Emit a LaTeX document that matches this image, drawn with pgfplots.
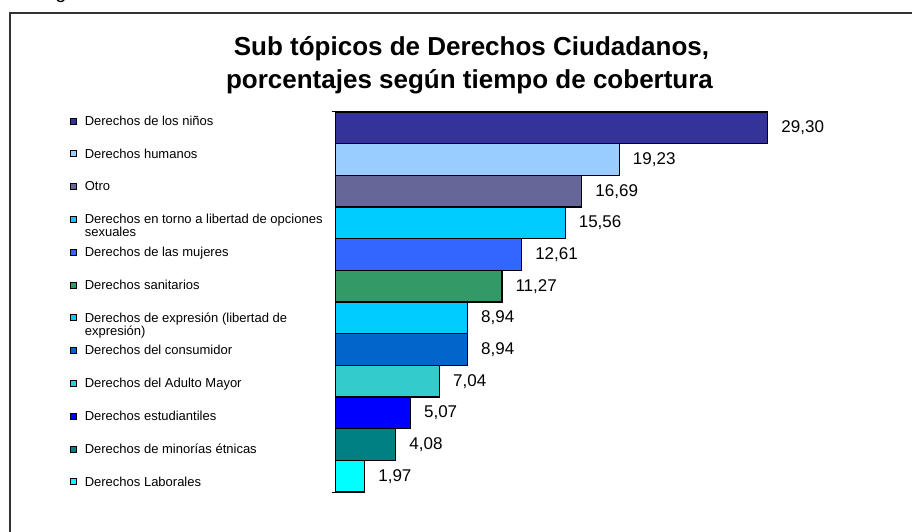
\documentclass[border=0pt]{standalone}
\usepackage{pgfplots}
\pgfplotsset{compat=1.18}
\usepackage{fontspec}
\setmainfont{Liberation Sans}
\definecolor{c1}{HTML}{333399}
\definecolor{c2}{HTML}{99CCFF}
\definecolor{c3}{HTML}{666699}
\definecolor{c4}{HTML}{00CCFF}
\definecolor{c5}{HTML}{3366FF}
\definecolor{c6}{HTML}{339966}
\definecolor{c7}{HTML}{00CCFF}
\definecolor{c8}{HTML}{0066CC}
\definecolor{c9}{HTML}{33CCCC}
\definecolor{c10}{HTML}{0000FF}
\definecolor{c11}{HTML}{008080}
\definecolor{c12}{HTML}{00FFFF}
\newcommand{\lt}[1]{\smash{\parbox[t]{260bp}{\raggedright #1}}}
\pgfplotsset{
  mybar/.style={xbar, bar width=31.67bp, bar shift=0pt, draw=black, line width=1.2bp, fill=#1},
}
\begin{document}
\begin{tikzpicture}
\useasboundingbox (0,0) rectangle (912bp,532bp);
\draw[line width=1.2bp, black!80] (10bp,-10bp) -- (10bp,519bp) -- (925bp,519bp);
\node[anchor=base, font=\fontsize{20bp}{24bp}\selectfont] at (61bp,533bp) {g};
\node[anchor=base, font=\bfseries\fontsize{26bp}{30bp}\selectfont] at (471.5bp,476bp) {Sub tópicos de Derechos Ciudadanos,};
\node[anchor=base, font=\bfseries\fontsize{26bp}{30bp}\selectfont] at (469.5bp,443bp) {porcentajes según tiempo de cobertura};
\begin{axis}[
  at={(335.7bp,40bp)}, anchor=south west,
  scale only axis, width=500bp, height=380bp,
  xmin=0, xmax=33.9, ymin=-0.5, ymax=11.5,
  axis x line=none, axis y line*=left,
  ytick={-0.5,11.5}, yticklabels={},
  tick align=outside, major tick length=4bp,
  y axis line style={black, line width=1bp},
  ytick style={black, line width=1bp},
  clip=false,
  point meta=x,
  nodes near coords,
  nodes near coords style={anchor=west, inner sep=0pt, xshift=13bp, font=\fontsize{17bp}{19bp}\selectfont, text=black},
  /pgf/number format/.cd, use comma, fixed, fixed zerofill, precision=2, assume math mode=true, /pgfplots/.cd,
  legend image code/.code={\draw[#1, line width=0.8bp, draw=black] (0bp,-3bp) rectangle (6bp,3bp);},
  legend cell align=left,
  legend style={draw=none, fill=none, at={(axis description cs:-0.5314,1.0195)}, anchor=north west,
    inner sep=0pt, outer sep=0pt, row sep=0pt,
    nodes={inner sep=0pt, outer sep=0pt, text height=20.8bp, text depth=12bp},
    font=\fontsize{13bp}{13bp}\selectfont,
    /tikz/every odd column/.style={column sep=8bp}},
]
\addplot[mybar=c1] coordinates {(29.30,11)};
\addlegendentry{\lt{Derechos de los niños}}
\addplot[mybar=c2] coordinates {(19.23,10)};
\addlegendentry{\lt{Derechos humanos}}
\addplot[mybar=c3] coordinates {(16.69,9)};
\addlegendentry{\lt{Otro}}
\addplot[mybar=c4] coordinates {(15.56,8)};
\addlegendentry{\lt{Derechos en torno a libertad de opciones\\sexuales}}
\addplot[mybar=c5] coordinates {(12.61,7)};
\addlegendentry{\lt{Derechos de las mujeres}}
\addplot[mybar=c6] coordinates {(11.27,6)};
\addlegendentry{\lt{Derechos sanitarios}}
\addplot[mybar=c7] coordinates {(8.94,5)};
\addlegendentry{\lt{Derechos de expresión (libertad de\\expresión)}}
\addplot[mybar=c8] coordinates {(8.94,4)};
\addlegendentry{\lt{Derechos del consumidor}}
\addplot[mybar=c9] coordinates {(7.04,3)};
\addlegendentry{\lt{Derechos del Adulto Mayor}}
\addplot[mybar=c10] coordinates {(5.07,2)};
\addlegendentry{\lt{Derechos estudiantiles}}
\addplot[mybar=c11] coordinates {(4.08,1)};
\addlegendentry{\lt{Derechos de minorías étnicas}}
\addplot[mybar=c12] coordinates {(1.97,0)};
\addlegendentry{\lt{Derechos Laborales}}
\end{axis}
\end{tikzpicture}
\end{document}
